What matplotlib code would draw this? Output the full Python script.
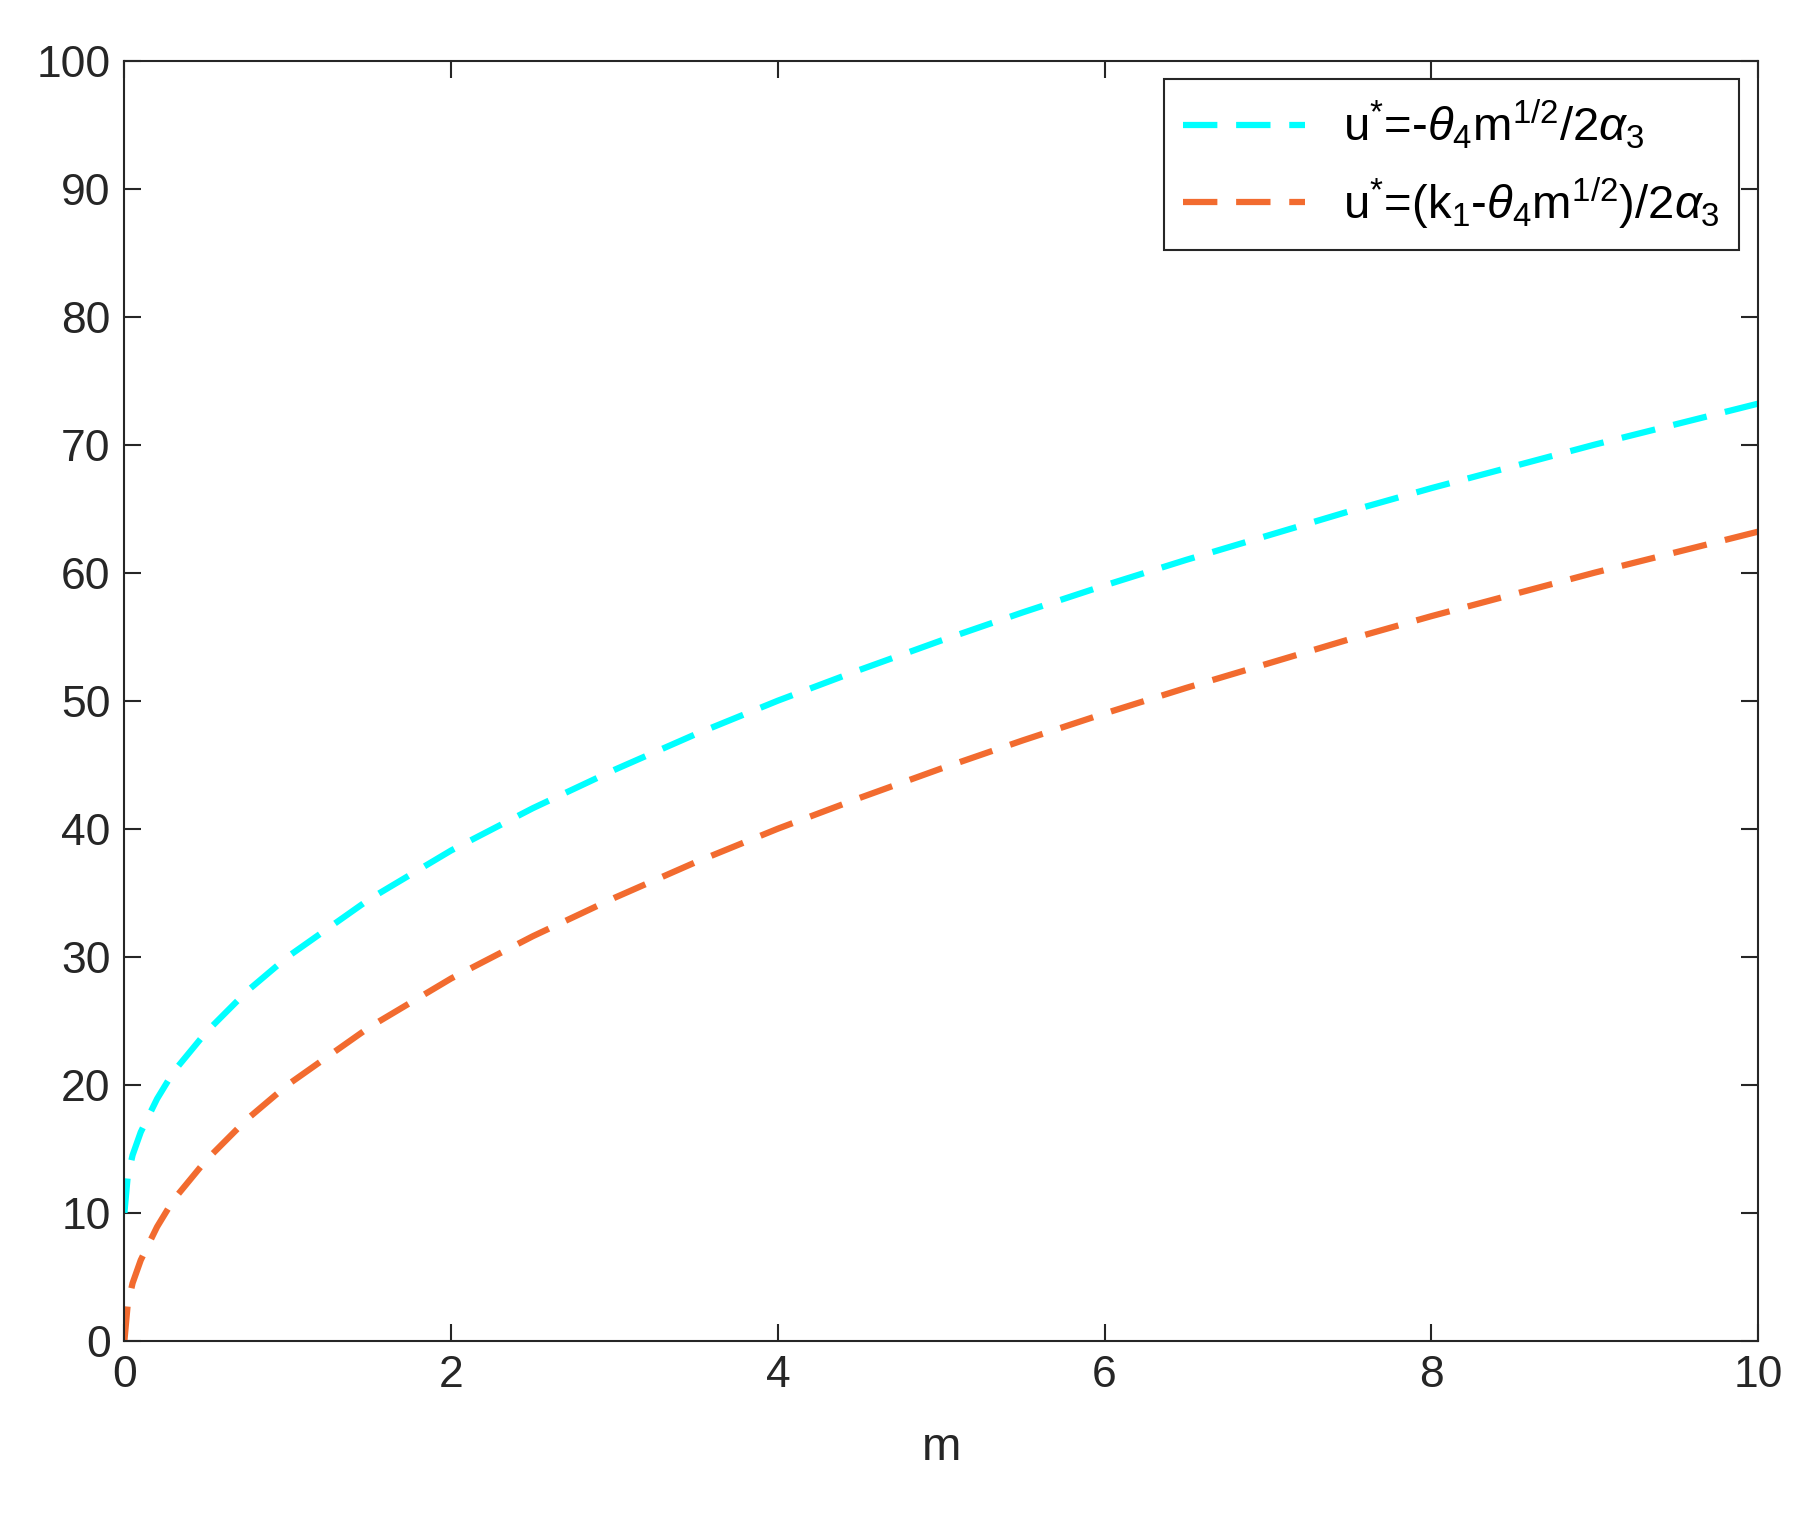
import matplotlib
matplotlib.use("Agg")
import matplotlib.pyplot as plt

plt.rcParams['font.family'] = ['Liberation Sans', 'DejaVu Sans']
plt.rcParams['mathtext.fontset'] = 'custom'
plt.rcParams['mathtext.rm'] = 'Liberation Sans'
plt.rcParams['mathtext.it'] = 'Liberation Sans:italic'
plt.rcParams['mathtext.sf'] = 'Liberation Sans'

m = [0, 0.02, 0.05, 0.1, 0.2, 0.3, 0.5, 0.75, 1, 1.5, 2, 2.5, 3, 3.5, 4, 4.5, 5, 5.5, 6, 6.5, 7, 7.5, 8, 8.5, 9, 9.5, 10]
u_cyan = [10, 12.8, 14.5, 16.3, 18.9, 21.0, 24.1, 27.3, 30, 34.5, 38.3, 41.6, 44.6, 47.4, 50, 52.4, 54.7, 56.9, 59.0, 61.0, 62.9, 64.8, 66.6, 68.3, 70.0, 71.6, 73.2]
u_orange = [0, 2.8, 4.5, 6.3, 8.9, 11.0, 14.1, 17.3, 20, 24.5, 28.3, 31.6, 34.6, 37.4, 40, 42.4, 44.7, 46.9, 49.0, 51.0, 52.9, 54.8, 56.6, 58.3, 60.0, 61.6, 63.2]
labels = [r'u$^{*}$=-$\it{\theta}_{4}$m$^{1/2}$/2$\alpha_{3}$',
          r'u$^{*}$=(k$_{1}$-$\it{\theta}_{4}$m$^{1/2}$)/2$\alpha_{3}$']

fig = plt.figure(figsize=(18.03, 15.15), dpi=100)
ax = fig.add_axes([0.069, 0.115, 0.906, 0.845])
ax.plot(m, u_cyan, color='#00FFFF', lw=4.5, ls=(0, (5.5, 3)), label=labels[0])
ax.plot(m, u_orange, color='#F26B2F', lw=4.5, ls=(0, (5.5, 3)), label=labels[1])
ax.set_xlim(0, 10)
ax.set_ylim(0, 100)
ax.set_xticks(range(0, 11, 2))
ax.set_yticks(range(0, 101, 10))
ax.tick_params(direction='in', length=12, width=1.5, labelsize=32, colors='#262626',
               top=True, right=True, pad=10)
for s in ax.spines.values():
    s.set_linewidth(1.5)
    s.set_color('#262626')
ax.set_xlabel('m', fontsize=34, color='#262626', labelpad=22)
leg = ax.legend(loc='upper right', fontsize=34, fancybox=False, framealpha=1,
                edgecolor='#262626', handlelength=2.6, borderaxespad=0.4,
                labelspacing=0.5)
leg.get_frame().set_linewidth(1.5)
fig.savefig('out.png', dpi=100)
